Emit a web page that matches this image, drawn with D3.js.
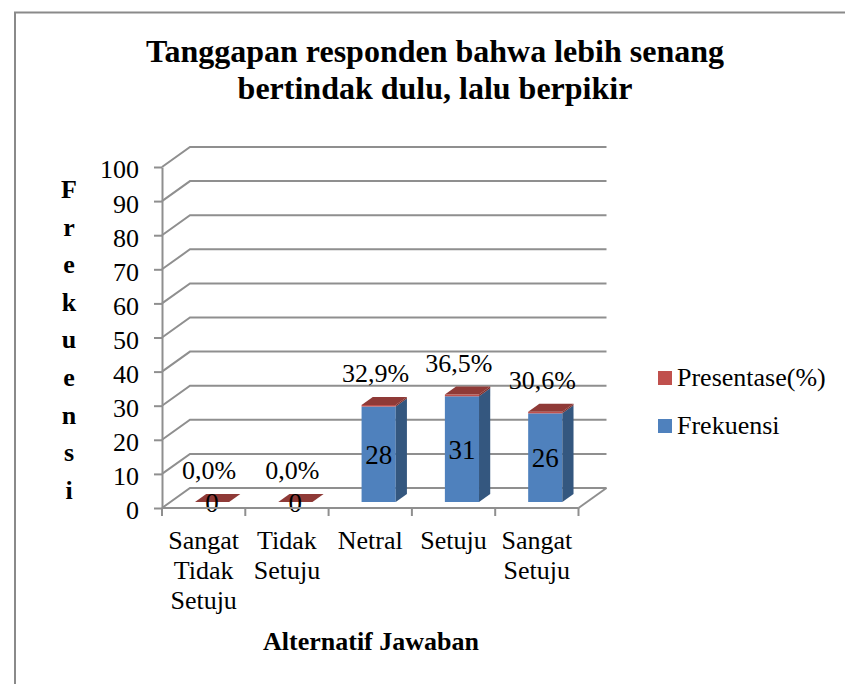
<!DOCTYPE html>
<html>
<head>
<meta charset="utf-8">
<script src="https://cdn.jsdelivr.net/npm/d3@7"></script>
<style>
  body { margin: 0; background: #fff; }
  svg { display: block; font-family: "Liberation Serif", "Times New Roman", serif; }
</style>
</head>
<body>
<svg width="845" height="684"></svg>
<script>
// chart data
var categories = ["Sangat Tidak Setuju", "Tidak Setuju", "Netral", "Setuju", "Sangat Setuju"];
var frekuensi = [0, 0, 28, 31, 26];
var presentase = [0.0, 0.0, 32.9, 36.5, 30.6];
var yTicks = [0, 10, 20, 30, 40, 50, 60, 70, 80, 90, 100];
var seriesNames = ["Presentase(%)", "Frekuensi"];

var svg = d3.select("svg");

// 3d depth offset of the plot box
var DX = 28, DY = -20;

var x = d3.scaleBand().domain(categories).range([162, 578.5]);
var y = d3.scaleLinear().domain([0, 100]).range([508, 167]);
var color = d3.scaleOrdinal().domain(seriesNames).range(["#C0504D", "#4F81BD"]);

// outer border (only top/left visible)
svg.append("path")
    .attr("d", "M15,684V12.5H845")
    .attr("fill", "none")
    .attr("stroke", "#8a8a8a")
    .attr("stroke-width", 2);

// title
svg.append("text")
    .attr("x", 435).attr("y", 62)
    .attr("text-anchor", "middle")
    .style("font-size", "32px").style("font-weight", "bold")
    .text("Tanggapan responden bahwa lebih senang");
svg.append("text")
    .attr("x", 435).attr("y", 99)
    .attr("text-anchor", "middle")
    .style("font-size", "32px").style("font-weight", "bold")
    .text("bertindak dulu, lalu berpikir");

// back wall + side gridlines
var x0 = x.range()[0], x1 = x.range()[1];
svg.append("g").selectAll("path")
    .data(yTicks)
    .enter().append("path")
    .attr("d", function(v) {
        return "M" + x0 + "," + y(v) + "L" + (x0 + DX) + "," + (y(v) + DY) + "H" + (x1 + DX);
    })
    .attr("fill", "none")
    .attr("stroke", "#8f8f8f")
    .attr("stroke-width", 2);

// floor right edge
svg.append("path")
    .attr("d", "M" + x1 + "," + y(0) + "L" + (x1 + DX) + "," + (y(0) + DY))
    .attr("fill", "none")
    .attr("stroke", "#8f8f8f")
    .attr("stroke-width", 2);

// bars
var bw = x.bandwidth() * 0.41;
var bd = 0.4;   // bar depth fraction
var bt = 0.3;   // bar front offset fraction

var bars = svg.append("g").selectAll("g")
    .data(categories)
    .enter().append("g");

bars.each(function(c, i) {
    var g = d3.select(this);
    var left = x(c) + (x.bandwidth() - bw) / 2 + bt * DX;
    var right = left + bw;
    var sy = bt * DY;
    var yBase = y(0) + sy;
    var yBlue = y(frekuensi[i]) + sy;
    var yTop = y(frekuensi[i] + presentase[i] / 100) + sy;
    var ox = bd * DX, oy = bd * DY;

    if (frekuensi[i] > 0) {
        // blue front
        g.append("rect")
            .attr("x", left).attr("y", yBlue)
            .attr("width", bw).attr("height", yBase - yBlue)
            .attr("fill", color("Frekuensi"));
        // blue side
        g.append("path")
            .attr("d", "M" + right + "," + yBase + "L" + (right + ox) + "," + (yBase + oy) +
                  "L" + (right + ox) + "," + (yBlue + oy) + "L" + right + "," + yBlue + "Z")
            .attr("fill", "#34577f");
        // red front strip
        g.append("rect")
            .attr("x", left).attr("y", yTop - 0.5)
            .attr("width", bw).attr("height", yBlue - yTop + 0.5)
            .attr("fill", color("Presentase(%)"));
        g.append("path")
            .attr("d", "M" + right + "," + yBlue + "L" + (right + ox) + "," + (yBlue + oy) +
                  "L" + (right + ox) + "," + (yTop - 0.5 + oy) + "L" + right + "," + (yTop - 0.5) + "Z")
            .attr("fill", "#7d2e2c");
    }
    // top face (red)
    var t = frekuensi[i] > 0 ? yTop - 0.5 : yTop;
    g.append("path")
        .attr("d", "M" + left + "," + t + "L" + right + "," + t +
              "L" + (right + ox) + "," + (t + oy) + "L" + (left + ox) + "," + (t + oy) + "Z")
        .attr("fill", "#8f3a37");

    // value label in the blue segment
    g.append("text")
        .attr("x", left + bw / 2)
        .attr("y", (yBase + yBlue) / 2)
        .attr("dy", "0.36em")
        .attr("text-anchor", "middle")
        .style("font-size", "27px")
        .text(frekuensi[i]);

    // percentage label above
    g.append("text")
        .attr("x", left + bw / 2 - 3)
        .attr("y", yTop - 23)
        .attr("text-anchor", "middle")
        .style("font-size", "26px")
        .text(d3.format(".1f")(presentase[i]).replace(".", ",") + "%");
});

// y axis
var yAxis = svg.append("g")
    .attr("transform", "translate(" + x0 + ",0)")
    .call(d3.axisLeft(y).tickValues(yTicks).tickSize(8).tickSizeOuter(0).tickPadding(15));
yAxis.select(".domain").attr("stroke", "#8f8f8f").attr("stroke-width", 2);
yAxis.selectAll(".tick line").attr("stroke", "#8f8f8f").attr("stroke-width", 2);
yAxis.selectAll(".tick text")
    .attr("fill", "#000")
    .attr("dy", "0.42em")
    .style("font-size", "26px")
    .style("font-family", "'Liberation Serif', serif");

// x axis line + boundary ticks
svg.append("path")
    .attr("d", "M" + x0 + "," + y(0) + "H" + x1)
    .attr("stroke", "#8f8f8f").attr("stroke-width", 2);
var bounds = categories.map(function(c) { return x(c); }).concat([x1]);
svg.append("g").selectAll("line")
    .data(bounds)
    .enter().append("line")
    .attr("x1", function(d) { return d; }).attr("x2", function(d) { return d; })
    .attr("y1", y(0)).attr("y2", y(0) + 8)
    .attr("stroke", "#8f8f8f").attr("stroke-width", 2);

// category labels, one word per line
var catLabels = svg.append("g").selectAll("text")
    .data(categories)
    .enter().append("text")
    .attr("x", function(c) { return x(c) + x.bandwidth() / 2; })
    .attr("y", y(0) + 41)
    .attr("text-anchor", "middle")
    .style("font-size", "26px");
catLabels.each(function(c) {
    var t = d3.select(this);
    c.split(" ").forEach(function(w, k) {
        t.append("tspan")
            .attr("x", x(c) + x.bandwidth() / 2)
            .attr("dy", k === 0 ? 0 : 30)
            .text(w);
    });
});

// x axis title
svg.append("text")
    .attr("x", 371).attr("y", 650)
    .attr("text-anchor", "middle")
    .style("font-size", "26px").style("font-weight", "bold")
    .text("Alternatif Jawaban");

// y axis title, stacked letters
svg.append("g").selectAll("text")
    .data("Frekuensi".split(""))
    .enter().append("text")
    .attr("x", 69)
    .attr("y", function(d, k) { return 198 + k * 37.6; })
    .attr("text-anchor", "middle")
    .style("font-size", "26px").style("font-weight", "bold")
    .text(function(d) { return d; });

// legend
var legend = svg.append("g").selectAll("g")
    .data(seriesNames)
    .enter().append("g")
    .attr("transform", function(d, k) { return "translate(658," + (371 + k * 48) + ")"; });
legend.append("rect")
    .attr("width", 14).attr("height", 14)
    .attr("fill", function(d) { return color(d); });
legend.append("text")
    .attr("x", 19).attr("y", 15)
    .style("font-size", "26px")
    .text(function(d) { return d; });
</script>
</body>
</html>
